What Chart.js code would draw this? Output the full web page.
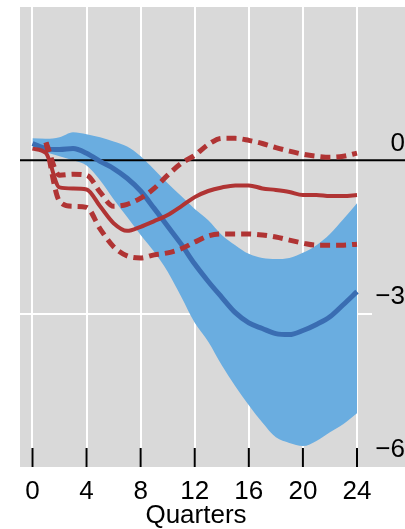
<!DOCTYPE html>
<html>
<head>
<meta charset="utf-8">
<script src="https://cdn.jsdelivr.net/npm/chart.js@4.4.1/dist/chart.umd.min.js"></script>
<style>
  html, body { margin: 0; padding: 0; background: #fff; }
</style>
</head>
<body>
<canvas id="chart" width="405" height="529"></canvas>
<script>
// quarters after the shock
const quarters = [0,1,2,3,4,5,6,7,8,9,10,11,12,13,14,15,16,17,18,19,20,21,22,23,24];
const xTicks = [0,4,8,12,16,20,24];
const yTicks = [-6,-3,0,3];

// blue: central path and shaded band
const centre   = [0.33,0.23,0.21,0.23,0.14,-0.02,-0.16,-0.35,-0.60,-0.94,-1.29,-1.64,-2.03,-2.37,-2.68,-2.98,-3.18,-3.29,-3.39,-3.41,-3.33,-3.21,-3.06,-2.82,-2.57];
const bandHigh = [0.43,0.42,0.45,0.55,0.51,0.45,0.37,0.27,0.08,-0.18,-0.45,-0.70,-0.95,-1.17,-1.46,-1.66,-1.83,-1.91,-1.93,-1.91,-1.81,-1.66,-1.44,-1.15,-0.84];
const bandLow  = [0.23,0.16,0.08,0.00,-0.10,-0.39,-0.76,-1.11,-1.46,-1.79,-2.18,-2.67,-3.18,-3.55,-4.01,-4.42,-4.79,-5.13,-5.42,-5.53,-5.59,-5.49,-5.32,-5.16,-4.95];

// red: solid path and dashed bounds
const redMid  = [0.23,0.14,-0.53,-0.55,-0.57,-0.90,-1.23,-1.38,-1.30,-1.19,-1.07,-0.90,-0.72,-0.60,-0.53,-0.49,-0.49,-0.55,-0.58,-0.62,-0.68,-0.68,-0.70,-0.70,-0.68];
const redHigh = [null,0.35,-0.29,-0.27,-0.29,-0.62,-0.90,-0.86,-0.74,-0.55,-0.29,-0.06,0.10,0.31,0.43,0.43,0.39,0.33,0.25,0.18,0.12,0.08,0.06,0.08,0.14];
const redLow  = [null,0.35,-0.80,-0.90,-0.92,-1.34,-1.69,-1.87,-1.91,-1.85,-1.81,-1.73,-1.60,-1.48,-1.44,-1.44,-1.44,-1.46,-1.50,-1.56,-1.62,-1.66,-1.66,-1.66,-1.64];

const FONT = "'Liberation Sans', Arial, sans-serif";
const RED = '#b03434';
const toPts = arr => quarters.map((q, i) => ({ x: q, y: arr[i] }));

// gray panel, zero line and bottom tick marks
const panel = {
  id: 'panel',
  beforeDraw(chart) {
    const { ctx, chartArea: a } = chart;
    ctx.save();
    ctx.fillStyle = '#d9d9d9';
    ctx.fillRect(a.left, a.top, chart.width - a.left, a.bottom - a.top);
    ctx.restore();
  },
  beforeDatasetDraw(chart, args) {
    if (args.index !== 3) return;
    const { ctx, chartArea: a } = chart;
    const y = chart.scales.y.getPixelForValue(0);
    ctx.save();
    ctx.strokeStyle = '#000';
    ctx.lineWidth = 2;
    ctx.beginPath();
    ctx.moveTo(a.left, y);
    ctx.lineTo(chart.width, y);
    ctx.stroke();
    ctx.restore();
  },
  afterDatasetsDraw(chart) {
    const { ctx, chartArea: a } = chart;
    ctx.save();
    ctx.strokeStyle = '#000';
    ctx.lineWidth = 2;
    xTicks.forEach(v => {
      const x = chart.scales.x.getPixelForValue(v);
      ctx.beginPath();
      ctx.moveTo(x, a.bottom - 19);
      ctx.lineTo(x, a.bottom);
      ctx.stroke();
    });
    ctx.restore();
  }
};

new Chart(document.getElementById('chart'), {
  type: 'line',
  data: {
    datasets: [
      { data: toPts(redMid), borderColor: RED, borderWidth: 4, pointRadius: 0 },
      { data: toPts(redHigh), borderColor: RED, borderWidth: 5, borderDash: [10, 6], pointRadius: 0 },
      { data: toPts(redLow), borderColor: RED, borderWidth: 5, borderDash: [10, 6], pointRadius: 0 },
      { data: toPts(centre), borderColor: '#3a6db2', borderWidth: 5, pointRadius: 0 },
      { data: toPts(bandHigh), borderWidth: 0, backgroundColor: '#6aade0', fill: '+1', pointRadius: 0 },
      { data: toPts(bandLow), borderWidth: 0, fill: false, pointRadius: 0 }
    ]
  },
  options: {
    responsive: false,
    animation: false,
    layout: { padding: { left: 20, top: 7, right: 0, bottom: 0 } },
    elements: { line: { cubicInterpolationMode: 'monotone' } },
    plugins: { legend: { display: false }, tooltip: { enabled: false } },
    scales: {
      x: {
        type: 'linear',
        min: -0.923,
        max: 25.11,
        afterBuildTicks: s => { s.ticks = xTicks.map(v => ({ value: v })); },
        afterFit: s => { s.height = 62; s.paddingLeft = 0; s.paddingRight = 0; },
        grid: { color: '#ffffff', lineWidth: 2, drawTicks: false },
        border: { display: false },
        ticks: { color: '#000', font: { family: FONT, size: 26 }, padding: 9, maxRotation: 0, autoSkip: false },
        title: { display: true, text: 'Quarters', color: '#000', font: { family: FONT, size: 26, lineHeight: 1 }, padding: { top: 0, bottom: 0 } }
      },
      y: {
        position: 'right',
        min: -6,
        max: 3,
        afterBuildTicks: s => { s.ticks = yTicks.map(v => ({ value: v })); },
        afterFit: s => { s.width = 33; s.paddingTop = 0; s.paddingBottom = 0; },
        grid: {
          color: c => (c.tick && c.tick.value === -3) ? '#ffffff' : 'rgba(0,0,0,0)',
          lineWidth: 2,
          drawTicks: false
        },
        border: { display: false },
        ticks: {
          color: '#000',
          font: { family: FONT, size: 26 },
          padding: 4,
          crossAlign: 'far',
          labelOffset: -17,
          autoSkip: false,
          callback: v => v === 3 ? null : (v < 0 ? '\u2212' + Math.abs(v) : String(v))
        }
      }
    }
  },
  plugins: [panel]
});
</script>
</body>
</html>
